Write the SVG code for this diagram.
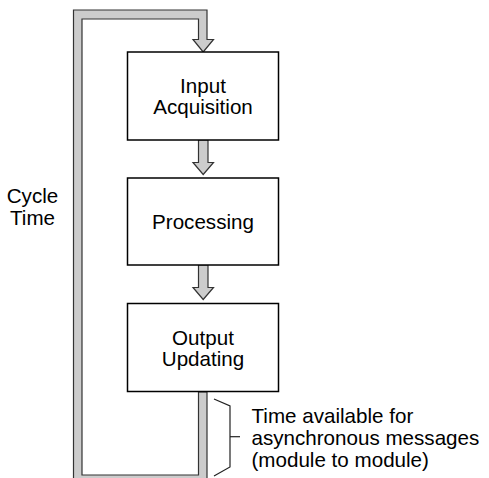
<svg xmlns="http://www.w3.org/2000/svg" width="489" height="478" viewBox="0 0 489 478">
<style>
.box{fill:#fff;stroke:#000;stroke-width:1.5}
.band{fill:#cccccc;stroke:#333;stroke-width:1.2;stroke-linejoin:miter}
.t{font-family:"Liberation Sans",Arial,sans-serif;font-size:20.6px;fill:#000}
.m{text-anchor:middle}
.br{fill:none;stroke:#222;stroke-width:1.2}
</style>
<rect width="489" height="478" fill="#fff"/>
<g id="connectors">
<polygon class="band" points="73.5,490 73.5,10 207,10 207,39.5 213.5,39.5 203.2,52 193,39.5 198.5,39.5 198.5,19 82,19 82,475 198.5,475 198.5,392 207,392 207,490"/>
<polygon class="band" points="198.5,140 208,140 208,162.5 213.5,162.5 203.2,174.5 193,162.5 198.5,162.5"/>
<polygon class="band" points="198.5,265 208,265 208,287.5 213.5,287.5 203.2,299.5 193,287.5 198.5,287.5"/>
</g>
<g id="input-acquisition">
<rect class="box" x="127.5" y="52" width="151" height="88"/>
<text class="t m" x="203" y="93">Input</text>
<text class="t m" x="203" y="114">Acquisition</text>
</g>
<g id="processing">
<rect class="box" x="127.5" y="178" width="151" height="87"/>
<text class="t m" x="203" y="229">Processing</text>
</g>
<g id="output-updating">
<rect class="box" x="127.5" y="303.5" width="151" height="88"/>
<text class="t m" x="203" y="345">Output</text>
<text class="t m" x="203" y="366">Updating</text>
</g>
<g id="cycle-time">
<text class="t m" x="32.5" y="203">Cycle</text>
<text class="t m" x="32.5" y="225">Time</text>
</g>
<g id="async-note">
<polyline class="br" points="214,399 230,406 230,467 214,476"/>
<line class="br" x1="230" y1="436.7" x2="240" y2="436.7"/>
<text class="t" x="251.5" y="423">Time available for</text>
<text class="t" x="251.5" y="445">asynchronous messages</text>
<text class="t" x="251.5" y="467">(module to module)</text>
</g>
</svg>
